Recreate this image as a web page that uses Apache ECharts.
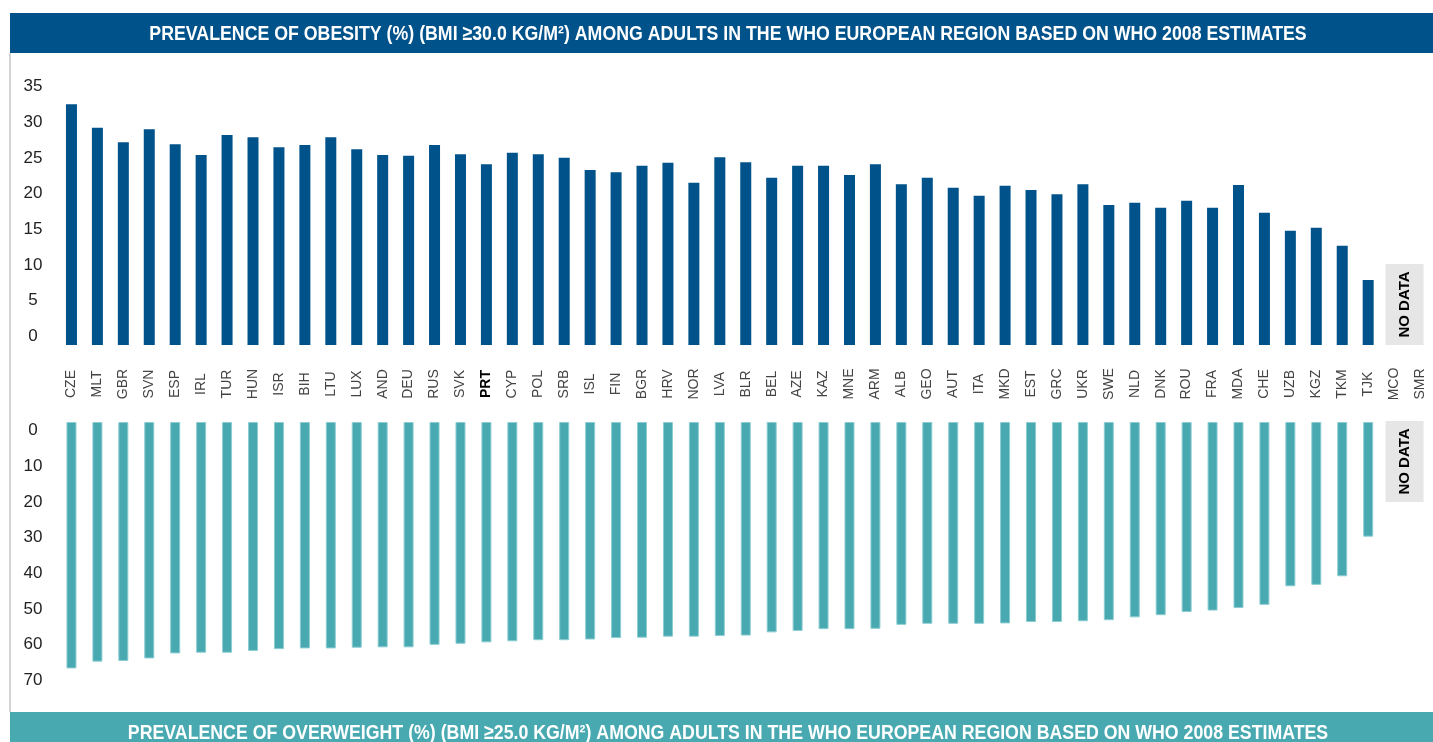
<!DOCTYPE html>
<html>
<head>
<meta charset="utf-8">
<title>Obesity and overweight in the WHO European Region</title>
<script src="https://cdn.jsdelivr.net/npm/echarts@6/dist/echarts.min.js"></script>
<style>
  html, body { margin: 0; padding: 0; background: #fff; }
  #chart { width: 1433px; height: 742px; }
</style>
</head>
<body>
<div id="chart"></div>
<script>
// country codes, left to right
const countries = ["CZE", "MLT", "GBR", "SVN", "ESP", "IRL", "TUR", "HUN", "ISR", "BIH", "LTU", "LUX", "AND", "DEU", "RUS", "SVK",
  "PRT", "CYP", "POL", "SRB", "ISL", "FIN", "BGR", "HRV", "NOR", "LVA", "BLR", "BEL", "AZE", "KAZ", "MNE", "ARM", "ALB", "GEO",
  "AUT", "ITA", "MKD", "EST", "GRC", "UKR", "SWE", "NLD", "DNK", "ROU", "FRA", "MDA", "CHE", "UZB", "KGZ", "TKM", "TJK", "MCO", "SMR"];

// obesity % (BMI >= 30), null = no data
const obesity = [33.7, 30.4, 28.4, 30.2, 28.1, 26.6, 29.4, 29.1, 27.7, 28.0, 29.1, 27.4, 26.6, 26.5, 28.0, 26.7,
  25.3, 26.9, 26.7, 26.2, 24.5, 24.2, 25.1, 25.5, 22.7, 26.3, 25.6, 23.4, 25.1, 25.1, 23.8, 25.3, 22.5, 23.4,
  22.0, 20.9, 22.3, 21.7, 21.1, 22.5, 19.6, 19.9, 19.2, 20.2, 19.2, 22.4, 18.5, 16.0, 16.4, 13.9, 9.1, null, null];

// overweight % (BMI >= 25), null = no data
const overweight = [69.0, 67.1, 66.9, 66.2, 64.8, 64.6, 64.6, 64.1, 63.6, 63.4, 63.4, 63.2, 63.1, 63.1, 62.4, 62.1,
  61.7, 61.4, 61.1, 61.1, 60.9, 60.5, 60.4, 60.1, 60.1, 59.9, 59.8, 58.9, 58.5, 58.0, 58.0, 57.9, 56.8, 56.5,
  56.5, 56.5, 56.4, 56.0, 56.0, 55.8, 55.5, 54.7, 54.1, 53.2, 52.8, 52.1, 51.2, 46.0, 45.6, 43.2, 32.1, null, null];

const highlight = "PRT";
const noData = ["MCO", "SMR"];

const topTitle = "PREVALENCE OF OBESITY (%) (BMI \u226530.0 KG/M\u00B2) AMONG ADULTS IN THE WHO EUROPEAN REGION BASED ON WHO 2008 ESTIMATES";
const bottomTitle = "PREVALENCE OF OVERWEIGHT (%) (BMI \u226525.0 KG/M\u00B2) AMONG ADULTS IN THE WHO EUROPEAN REGION BASED ON WHO 2008 ESTIMATES";

const BLUE = "#00528a";
const TEAL = "#48a9b1";
const SANS = "'Liberation Sans', Arial, sans-serif";

const chart = echarts.init(document.getElementById("chart"));

const valueLabel = {
  color: "#222",
  fontFamily: SANS,
  fontSize: 17,
  align: "center",
  margin: 25.5
};

const option = {
  animation: false,
  grid: [
    { left: 58.5, right: -7.7, top: 95, height: 250 },
    { left: 58.5, right: -7.7, top: 422, height: 250 }
  ],
  xAxis: [
    {
      type: "category",
      gridIndex: 0,
      data: countries,
      axisLine: { show: false },
      axisTick: { show: false },
      axisLabel: {
        interval: 0,
        rotate: 90,
        align: "center",
        verticalAlign: "middle",
        margin: 39,
        fontFamily: SANS,
        fontSize: 14,
        color: "#444",
        formatter: function (v) {
          return v === highlight ? "{b|" + v + "}" : v;
        },
        rich: {
          b: { fontWeight: "bold", color: "#000", fontSize: 14, fontFamily: SANS }
        }
      }
    },
    {
      type: "category",
      gridIndex: 1,
      position: "top",
      data: countries,
      axisLine: { show: false },
      axisTick: { show: false },
      axisLabel: { show: false }
    }
  ],
  yAxis: [
    {
      type: "value",
      gridIndex: 0,
      min: 0,
      max: 35,
      interval: 5,
      axisLine: { show: false },
      axisTick: { show: false },
      splitLine: { show: false },
      axisLabel: Object.assign({ verticalAlign: "bottom" }, valueLabel)
    },
    {
      type: "value",
      gridIndex: 1,
      inverse: true,
      min: 0,
      max: 70,
      interval: 10,
      axisLine: { show: false },
      axisTick: { show: false },
      splitLine: { show: false },
      axisLabel: Object.assign({ verticalAlign: "top" }, valueLabel)
    }
  ],
  series: [
    {
      name: "Obesity",
      type: "bar",
      xAxisIndex: 0,
      yAxisIndex: 0,
      barWidth: 11,
      itemStyle: { color: BLUE },
      data: obesity
    },
    {
      name: "Overweight",
      type: "bar",
      xAxisIndex: 1,
      yAxisIndex: 1,
      barWidth: 10,
      itemStyle: { color: TEAL, borderColor: "#8ccdd2", borderWidth: 1 },
      data: overweight
    }
  ]
};

chart.setOption(option);

// frame, title bands and the "no data" boxes
function titleBand(y, fill, text) {
  return {
    type: "group",
    children: [
      { type: "rect", shape: { x: 10, y: y, width: 1423, height: 40 }, style: { fill: fill } },
      {
        type: "text",
        x: 728,
        y: y + 21,
        scaleX: 0.845,
        style: {
          text: text,
          fill: "#fff",
          font: "bold 21px " + SANS,
          align: "center",
          verticalAlign: "middle",
          textAlign: "center",
          textVerticalAlign: "middle"
        }
      }
    ]
  };
}

function noDataBox(gridIdx, yTop) {
  const a = chart.convertToPixel({ xAxisIndex: gridIdx }, noData[0]);
  const b = chart.convertToPixel({ xAxisIndex: gridIdx }, noData[1]);
  const cx = (a + b) / 2 - 2.5;
  return {
    type: "group",
    children: [
      { type: "rect", shape: { x: cx - 19, y: yTop, width: 38, height: 81 }, style: { fill: "#e6e6e6" } },
      {
        type: "text",
        x: cx,
        y: yTop + 40.5,
        rotation: Math.PI / 2,
        style: {
          text: "NO DATA",
          fill: "#000",
          font: "bold 15px " + SANS,
          align: "center",
          verticalAlign: "middle",
          textAlign: "center",
          textVerticalAlign: "middle"
        }
      }
    ]
  };
}

const base1 = chart.convertToPixel({ yAxisIndex: 0 }, 0);
const base2 = chart.convertToPixel({ yAxisIndex: 1 }, 0);

chart.setOption({
  graphic: [
    { type: "rect", shape: { x: 9, y: 53, width: 2, height: 659 }, style: { fill: "#d4d4d4" } },
    titleBand(13, BLUE, topTitle),
    titleBand(712, TEAL, bottomTitle),
    noDataBox(0, base1 - 81),
    noDataBox(1, base2 - 1)
  ]
});
</script>
</body>
</html>
